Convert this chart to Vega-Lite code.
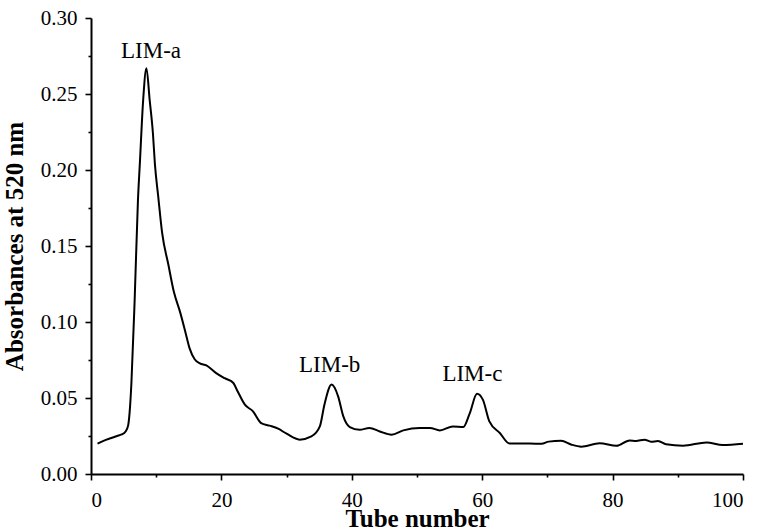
{
  "$schema": "https://vega.github.io/schema/vega-lite/v6.json",
  "width": 652,
  "height": 456,
  "autosize": {"type": "none"},
  "padding": {"left": 91, "top": 18, "right": 17, "bottom": 58},
  "background": "white",
  "config": {
    "view": {"stroke": null},
    "font": "Times New Roman, Liberation Serif, serif",
    "axis": {
      "domainColor": "black",
      "domainWidth": 2,
      "tickColor": "black",
      "tickWidth": 1.6,
      "labelColor": "black",
      "labelFont": "Times New Roman, Liberation Serif, serif",
      "labelFontSize": 21,
      "titleFont": "Times New Roman, Liberation Serif, serif",
      "titleFontSize": 25,
      "titleFontWeight": "bold",
      "titleColor": "black",
      "grid": false
    }
  },
  "layer": [
    {
      "data": {"values": [
        {"tube": 1.0, "absorbance": 0.020},
        {"tube": 2.0, "absorbance": 0.022},
        {"tube": 3.0, "absorbance": 0.0235},
        {"tube": 4.0, "absorbance": 0.025},
        {"tube": 4.7, "absorbance": 0.026},
        {"tube": 5.3, "absorbance": 0.028},
        {"tube": 5.7, "absorbance": 0.032},
        {"tube": 6.0, "absorbance": 0.045},
        {"tube": 6.2, "absorbance": 0.060},
        {"tube": 6.7, "absorbance": 0.115},
        {"tube": 7.2, "absorbance": 0.180},
        {"tube": 7.5, "absorbance": 0.205},
        {"tube": 8.0, "absorbance": 0.246},
        {"tube": 8.5, "absorbance": 0.267},
        {"tube": 9.0, "absorbance": 0.246},
        {"tube": 9.5, "absorbance": 0.224},
        {"tube": 9.8, "absorbance": 0.204},
        {"tube": 10.3, "absorbance": 0.183},
        {"tube": 10.9, "absorbance": 0.159},
        {"tube": 11.9, "absorbance": 0.137},
        {"tube": 12.7, "absorbance": 0.120},
        {"tube": 13.7, "absorbance": 0.106},
        {"tube": 14.5, "absorbance": 0.093},
        {"tube": 15.1, "absorbance": 0.083},
        {"tube": 15.9, "absorbance": 0.0755},
        {"tube": 16.7, "absorbance": 0.0728},
        {"tube": 17.7, "absorbance": 0.0715},
        {"tube": 19.2, "absorbance": 0.0664},
        {"tube": 20.5, "absorbance": 0.063},
        {"tube": 21.8, "absorbance": 0.060},
        {"tube": 22.5, "absorbance": 0.0543},
        {"tube": 23.6, "absorbance": 0.0456},
        {"tube": 24.85, "absorbance": 0.0412},
        {"tube": 26.1, "absorbance": 0.0335},
        {"tube": 27.4, "absorbance": 0.0318},
        {"tube": 28.7, "absorbance": 0.0298},
        {"tube": 30.0, "absorbance": 0.0265},
        {"tube": 32.0, "absorbance": 0.0226},
        {"tube": 33.8, "absorbance": 0.0247},
        {"tube": 35.1, "absorbance": 0.0313},
        {"tube": 35.8, "absorbance": 0.0456},
        {"tube": 36.9, "absorbance": 0.0588},
        {"tube": 37.9, "absorbance": 0.0511},
        {"tube": 38.7, "absorbance": 0.0379},
        {"tube": 39.7, "absorbance": 0.0309},
        {"tube": 41.2, "absorbance": 0.0291},
        {"tube": 42.7, "absorbance": 0.0303},
        {"tube": 44.3, "absorbance": 0.028},
        {"tube": 46.1, "absorbance": 0.0259},
        {"tube": 47.9, "absorbance": 0.0287},
        {"tube": 50.4, "absorbance": 0.0303},
        {"tube": 52.0, "absorbance": 0.0303},
        {"tube": 53.5, "absorbance": 0.0287},
        {"tube": 55.5, "absorbance": 0.0313},
        {"tube": 57.1, "absorbance": 0.0309},
        {"tube": 58.1, "absorbance": 0.0401},
        {"tube": 59.2, "absorbance": 0.0528},
        {"tube": 60.1, "absorbance": 0.0489},
        {"tube": 61.1, "absorbance": 0.0346},
        {"tube": 62.7, "absorbance": 0.027},
        {"tube": 64.2, "absorbance": 0.020},
        {"tube": 67.3, "absorbance": 0.020},
        {"tube": 69.1, "absorbance": 0.0199},
        {"tube": 70.2, "absorbance": 0.0213},
        {"tube": 72.1, "absorbance": 0.0219},
        {"tube": 73.7, "absorbance": 0.0193},
        {"tube": 75.2, "absorbance": 0.018},
        {"tube": 78.0, "absorbance": 0.0202},
        {"tube": 80.6, "absorbance": 0.0186},
        {"tube": 82.6, "absorbance": 0.0221},
        {"tube": 83.6, "absorbance": 0.0217},
        {"tube": 84.9, "absorbance": 0.0226},
        {"tube": 85.9, "absorbance": 0.0212},
        {"tube": 86.96, "absorbance": 0.0217},
        {"tube": 88.2, "absorbance": 0.0195},
        {"tube": 90.8, "absorbance": 0.0186},
        {"tube": 94.4, "absorbance": 0.0208},
        {"tube": 96.9, "absorbance": 0.0191},
        {"tube": 100.0, "absorbance": 0.0199}
      ]},
      "mark": {"type": "line", "interpolate": "monotone", "color": "black", "strokeWidth": 2},
      "encoding": {
        "x": {
          "field": "tube", "type": "quantitative",
          "scale": {"domain": [0, 100], "nice": false, "zero": false},
          "axis": {"orient": "bottom", "values": [0, 20, 40, 60, 80, 100], "tickSize": 6, "labelPadding": 9, "title": "Tube number", "titleBaseline": "alphabetic", "titlePadding": 16}
        },
        "y": {
          "field": "absorbance", "type": "quantitative",
          "scale": {"domain": [0, 0.3], "nice": false},
          "axis": {"orient": "left", "values": [0, 0.05, 0.1, 0.15, 0.2, 0.25, 0.3], "format": ".2f", "tickSize": 6, "labelPadding": 8, "title": "Absorbances at 520 nm", "titlePadding": 13}
        }
      }
    },
    {
      "data": {"values": [
        {"label": "LIM-a", "tube": 9.2, "absorbance": 0.274},
        {"label": "LIM-b", "tube": 36.6, "absorbance": 0.067},
        {"label": "LIM-c", "tube": 58.5, "absorbance": 0.061}
      ]},
      "mark": {"type": "text", "baseline": "alphabetic", "align": "center", "fontSize": 23, "font": "Times New Roman, Liberation Serif, serif", "color": "black"},
      "encoding": {
        "x": {
          "field": "tube", "type": "quantitative",
          "scale": {"domain": [0, 100], "nice": false, "zero": false},
          "axis": {"orient": "bottom", "values": [10, 30, 50, 70, 90], "tickSize": 3, "labels": false, "domain": false, "title": null}
        },
        "y": {
          "field": "absorbance", "type": "quantitative",
          "scale": {"domain": [0, 0.3], "nice": false},
          "axis": {"orient": "left", "values": [0.025, 0.075, 0.125, 0.175, 0.225, 0.275], "tickSize": 3, "labels": false, "domain": false, "title": null}
        },
        "text": {"field": "label"}
      }
    }
  ],
  "resolve": {"axis": {"x": "independent", "y": "independent"}}
}
